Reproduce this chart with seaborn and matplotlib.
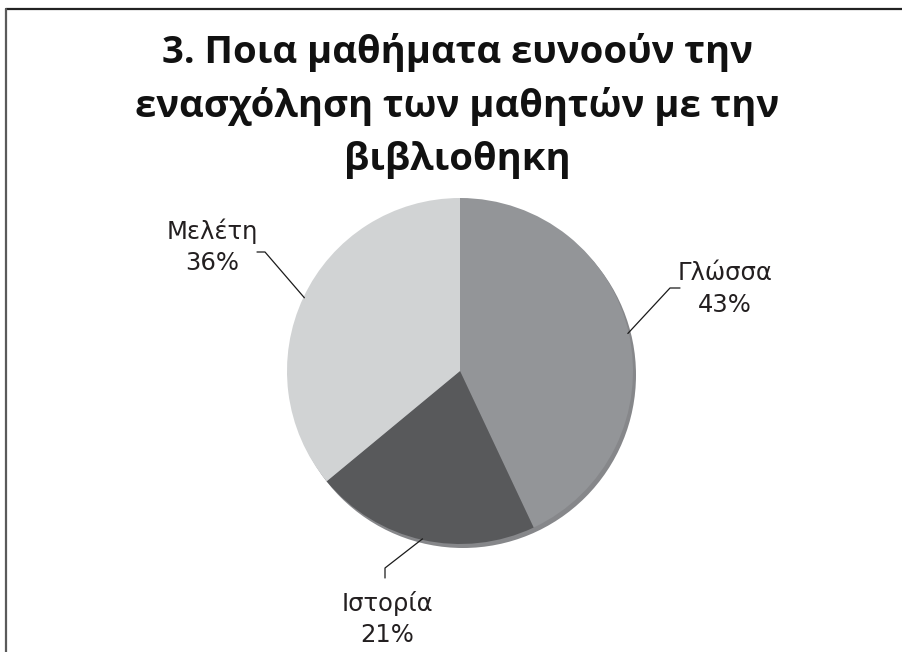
import numpy as np
import matplotlib
matplotlib.use("Agg")
import matplotlib.pyplot as plt
import seaborn as sns
from matplotlib.lines import Line2D
from matplotlib.patches import Circle

# Survey answers: which subjects lead students to the library
categories = ["Γλώσσα", "Ιστορία", "Μελέτη"]
shares = [43, 21, 36]
title_text = "3. Ποια μαθήματα ευνοούν την\nενασχόληση των μαθητών με την\nβιβλιοθηκη"

sns.set_theme(style="white")
plt.rcParams["font.family"] = ["DejaVu Sans"]

colors = ["#939598", "#58595b", "#d1d3d4"]

W, H = 903, 652
fig = plt.figure(figsize=(W / 100, H / 100), dpi=100)
fig.patch.set_facecolor("white")

# Axes spans the whole figure in pixel units (y measured upward)
ax = fig.add_axes([0, 0, 1, 1])

cx, cy, R = 460, H - 371, 173

# soft drop shadow under the pie
ax.add_patch(Circle((cx + 3, cy - 4), R, color="#86878a", zorder=1, lw=0))

wedges, _ = ax.pie(shares, colors=colors, startangle=90, counterclock=False,
                   radius=R, center=(cx, cy), frame=True,
                   wedgeprops=dict(linewidth=0, zorder=2))
ax.set_xlim(0, W)
ax.set_ylim(0, H)
ax.set_axis_off()

# label block centres, leader elbows and elbow tails (pixels, y up)
label_pos = [(725, H - 289), (387, H - 619), (212, H - 247)]
elbows = [(670, H - 288), (385, H - 568), (265, H - 252)]
tails = [(680, H - 288), (385, H - 578), (257, H - 252)]

for w, cat, val, lp, el, tl in zip(wedges, categories, shares, label_pos, elbows, tails):
    mid = np.deg2rad((w.theta1 + w.theta2) / 2)
    ex, ey = cx + (R - 1) * np.cos(mid), cy + (R - 1) * np.sin(mid)
    ax.plot([ex, el[0], tl[0]], [ey, el[1], tl[1]], color="#1a1a1a", lw=0.9, zorder=3)
    ax.text(lp[0], lp[1], f"{cat}\n{val}%", ha="center", va="center",
            fontsize=17.5, color="#231f20", linespacing=1.38,
            family="DejaVu Sans", zorder=4)

# title: last line's baseline anchored
fig.text(457 / W, 1 - 170 / H, title_text, ha="center", va="baseline",
         fontsize=27.5, fontweight="bold", family="Open Sans", color="#111111",
         linespacing=1.5)

# frame: top and left edges only
fig.add_artist(Line2D([6.5 / W, 1], [1 - 8.5 / H, 1 - 8.5 / H],
                      transform=fig.transFigure, color="#222222", lw=1.6))
fig.add_artist(Line2D([6.5 / W, 6.5 / W], [0, 1 - 8.5 / H],
                      transform=fig.transFigure, color="#5a5a5a", lw=1.6))

fig.savefig("out.png", dpi=100, facecolor="white")
